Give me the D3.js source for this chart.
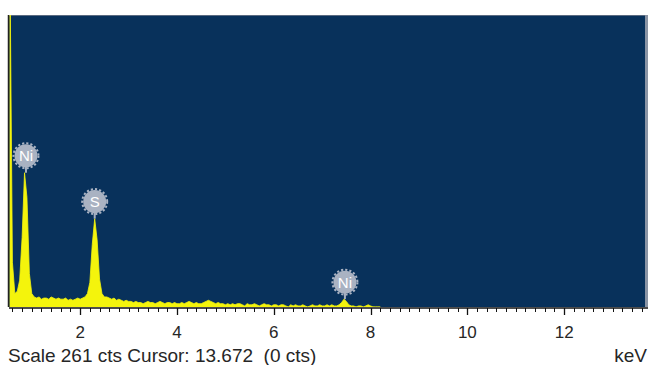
<!DOCTYPE html>
<html><head><meta charset="utf-8">
<script src="https://cdn.jsdelivr.net/npm/d3@7"></script>
<style>body{margin:0;background:#fff}svg{display:block}text{white-space:pre}</style>
</head><body>
<svg id="c" width="648" height="365"></svg>
<script>
// Spectrum: counts per 0.05 keV channel, starting at 0.55 keV
const energyStart = 0.55;
const energyStep = 0.05;
const counts = [
  300, 40, 12, 14, 24, 62, 120, 98, 30, 12,          // 0.55-1.00
  9, 8, 9, 7, 8, 8, 7, 9, 8, 7,                      // 1.05-1.50
  8, 7, 7, 8, 6, 7, 6, 7, 8, 7, 8, 9,                // 1.55-2.10
  12, 22, 56, 79, 60, 25, 12, 9,                     // 2.15-2.50
  9, 8, 7, 8, 6, 7, 6, 5, 6, 5,                      // 2.55-3.00
  5, 4, 5, 4, 4, 3, 4, 5, 4, 4, 3, 4, 5, 4, 3, 4, 4, 3, 4, 3, // 3.05-4.00
  3, 4, 3, 4, 5, 4, 3, 4, 3, 3, 4, 5, 6, 5, 4, 3, 4, 3, 3, 2, // 4.05-5.00
  3, 2, 3, 2, 3, 3, 2, 1, 3, 2, 2, 3, 2, 1, 2, 3, 2, 2, 1, 2, // 5.05-6.00
  2, 1, 2, 2, 1, 0, 2, 1, 2, 1, 1, 2, 1, 0, 1, 2, 1, 1, 2, 1, // 6.05-7.00
  1, 2, 1, 2, 1, 1, 2, 4, 7, 5, 2, 1,                // 7.05-7.60
  1, 0, 1, 1, 0, 1, 2, 1, 0, 0, 0, 0                 // 7.65-8.20
];
const peakLabels = ["Ni", "S", "Ni"];
const peakEnergies = [0.88, 2.30, 7.47];
const peakCounts = [120, 79, 7];
const xTickValues = [2, 4, 6, 8, 10, 12];
const scaleText = "Scale 261 cts Cursor: 13.672  (0 cts)";
const unitText = "keV";
const fullScale = 261;

const svg = d3.select("#c");
const L = 9, R = 645, T = 15, B = 307;
const x = d3.scaleLinear().domain([0.55, 13.67]).range([L + 1, R]);
const y = d3.scaleLinear().domain([0, fullScale]).range([B, T]);
const FONT = "Liberation Sans, Arial, sans-serif";

svg.append("defs").append("clipPath").attr("id", "plot")
  .append("rect").attr("x", L).attr("y", T).attr("width", R - L).attr("height", B - T);

svg.append("rect").attr("x", L).attr("y", T).attr("width", R - L).attr("height", B - T)
  .attr("fill", "#08315b");
svg.append("line").attr("x1", L - 0.5).attr("x2", L - 0.5).attr("y1", T).attr("y2", B)
  .attr("stroke", "#222").attr("stroke-width", 1.5);
svg.append("line").attr("x1", L).attr("x2", R).attr("y1", T + 0.5).attr("y2", T + 0.5)
  .attr("stroke", "#5a6a80").attr("stroke-width", 1);
svg.append("rect").attr("x", R).attr("y", T).attr("width", 3).attr("height", B - T)
  .attr("fill", "#8a94a4");

const data = counts.map((c, i) => ({e: energyStart + i * energyStep, c}));
const area = d3.area()
  .x(d => x(d.e))
  .y0(B)
  .y1(d => y(d.c))
  .curve(d3.curveLinear);
svg.append("path").datum(data).attr("d", area)
  .attr("fill", "#f4f40c").attr("stroke", "#f4f40c").attr("stroke-width", 0.8)
  .attr("clip-path", "url(#plot)");

// axis
const minor = d3.range(0.6, 13.7, 0.2);
const ax = svg.append("g");
ax.append("line").attr("x1", L).attr("x2", R + 3).attr("y1", B + 1).attr("y2", B + 1)
  .attr("stroke", "#111").attr("stroke-width", 1.5);
ax.selectAll("line.minor").data(minor).join("line").attr("class", "minor")
  .attr("x1", d => Math.round(x(d)) + 0.5).attr("x2", d => Math.round(x(d)) + 0.5)
  .attr("y1", B + 1).attr("y2", B + 5).attr("stroke", "#111").attr("stroke-width", 1);
ax.selectAll("line.major").data(xTickValues).join("line").attr("class", "major")
  .attr("x1", d => Math.round(x(d)) + 0.5).attr("x2", d => Math.round(x(d)) + 0.5)
  .attr("y1", B + 1).attr("y2", B + 8).attr("stroke", "#111").attr("stroke-width", 1.3);
ax.selectAll("text").data(xTickValues).join("text")
  .attr("x", d => x(d)).attr("y", 338).attr("text-anchor", "middle")
  .attr("font-family", FONT).attr("font-size", 17)
  .attr("fill", "#262626").text(d => d);

svg.append("text").attr("x", 8).attr("y", 362)
  .attr("font-family", FONT).attr("font-size", 19)
  .attr("fill", "#262626").text(scaleText);
svg.append("text").attr("x", 647).attr("y", 362).attr("text-anchor", "end")
  .attr("font-family", FONT).attr("font-size", 19)
  .attr("fill", "#262626").text(unitText);

// peak labels
const lab = svg.append("g").selectAll("g").data(peakLabels.map((t, i) => ({t, e: peakEnergies[i], c: peakCounts[i]})))
  .join("g").attr("transform", d => `translate(${x(d.e)},${y(d.c) - 17})`);
lab.append("line").attr("x1", 0).attr("x2", 0).attr("y1", 9).attr("y2", 17)
  .attr("stroke", "#a7b0c0").attr("stroke-width", 2);
lab.append("circle").attr("r", 12.5).attr("fill", "none").attr("stroke", "#aab3c3")
  .attr("stroke-width", 2).attr("stroke-dasharray", "2.2 2");
lab.append("circle").attr("r", 11.5).attr("fill", "#a9b2c2");
lab.append("text").attr("y", 5.5).attr("text-anchor", "middle")
  .attr("font-family", FONT).attr("font-size", 15)
  .attr("fill", "#fff").text(d => d.t);
</script>
</body></html>
